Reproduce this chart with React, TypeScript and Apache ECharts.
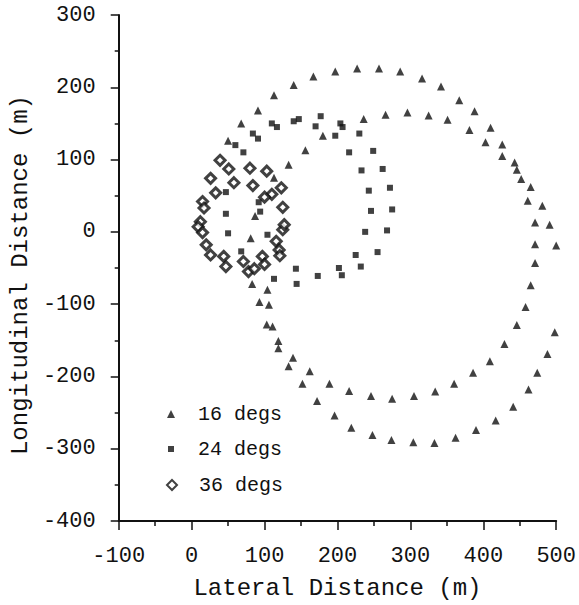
import { useEffect, useRef } from "react";
import * as echarts from "echarts";

// Axis ranges
const xRange = [-100, 500];
const yRange = [-400, 300];
const tickStep = 100;

// Series names
const seriesNames = ["16 degs", "24 degs", "36 degs"];

// 16 degs (triangles) [lateral, longitudinal]
const deg16: number[][] = [
  [140, 203], [113, 189], [91, 168], [68, 150], [50, 126], [156, 113], [133, 93], [113, 75], [87, 22], [81, -9], [83, -72],
  [167, 215], [197, 222], [227, 226], [257, 226], [286, 222], [316, 212], [342, 201],
  [236, 156], [266, 162], [296, 165], [325, 161], [351, 155], [180, 133],
  [367, 182], [388, 167], [410, 144], [426, 121], [443, 96], [465, 62], [481, 36], [491, 10], [500, -19], [503, -48],
  [381, 141], [403, 124], [426, 105], [446, 86], [452, 73], [461, 43], [471, 13], [471, -17], [471, -43],
  [504, -80], [501, -109], [498, -139], [488, -169], [474, -195], [462, -218], [441, -242],
  [465, -74], [458, -104], [446, -129], [429, -155], [409, -179], [386, -195], [360, -210], [334, -221], [305, -227],
  [104, -80], [93, -97], [106, -101], [103, -128], [111, -131], [119, -151], [119, -161], [139, -174], [133, -186],
  [162, -193], [152, -210], [189, -210], [216, -220], [246, -227], [275, -231],
  [172, -234], [196, -254], [219, -271], [248, -281], [274, -288], [304, -291], [333, -292], [362, -285], [390, -274], [417, -261],
];

// 24 degs (squares)
const deg24: number[][] = [
  [60, 120], [71, 110], [84, 136], [91, 129], [110, 150], [117, 145], [140, 153], [147, 156], [170, 146], [177, 160],
  [204, 150], [207, 145], [197, 133], [230, 136], [216, 110], [249, 112], [233, 85], [262, 87], [243, 57], [272, 61],
  [246, 29], [275, 31], [238, 0], [268, 2], [225, -32], [255, -28], [232, -48], [202, -50], [206, -60], [173, -61],
  [143, -51], [144, -72], [113, -65], [104, -4], [94, 28], [92, 41], [47, 25], [50, -2], [68, -27], [47, 55],
];

// 36 degs (diamonds)
const deg36: number[][] = [
  [39, 99], [51, 87], [58, 68], [26, 74], [33, 54], [15, 42], [17, 33], [12, 14], [9, 7], [15, -1], [20, -18],
  [26, -32], [44, -34], [47, -48], [71, -41], [78, -55], [86, -51], [97, -34], [100, -45], [116, -13], [120, -25],
  [121, -33], [125, 3], [127, 10], [125, 34], [123, 61], [110, 52], [100, 48], [103, 84], [80, 88], [84, 64],
];

const FONT = "'Liberation Mono', 'DejaVu Sans Mono', monospace";
const INK = "#111";

export default function App() {
  const ref = useRef<HTMLDivElement>(null);

  useEffect(() => {
    if (!ref.current) return;
    const chart = echarts.init(ref.current, undefined, { renderer: "svg" });

    const legendBase = {
      orient: "vertical" as const,
      selectedMode: false,
      itemGap: 0,
      textStyle: { fontFamily: FONT, fontSize: 20, color: INK, lineHeight: 20 },
    };

    chart.setOption({
      animation: false,
      backgroundColor: "#fff",
      grid: { left: 111, right: 22, top: 15, bottom: 80, containLabel: false },
      xAxis: {
        type: "value",
        min: xRange[0],
        max: xRange[1],
        interval: tickStep,
        name: "Lateral Distance (m)",
        nameLocation: "middle",
        nameGap: 55,
        nameTextStyle: { fontFamily: FONT, fontSize: 24, color: INK },
        axisLine: { show: true, onZero: false, lineStyle: { color: INK, width: 2 } },
        axisTick: { show: true, inside: false, length: 9, lineStyle: { color: INK, width: 1.5 } },
        minorTick: { show: true, splitNumber: 2, length: 5, lineStyle: { color: INK, width: 1.5 } },
        axisLabel: { fontFamily: FONT, fontSize: 22, color: INK, margin: 24 },
        splitLine: { show: false },
        minorSplitLine: { show: false },
      },
      yAxis: {
        type: "value",
        min: yRange[0],
        max: yRange[1],
        interval: tickStep,
        name: "Longitudinal Distance (m)",
        nameLocation: "middle",
        nameGap: 78,
        nameTextStyle: { fontFamily: FONT, fontSize: 24, color: INK, padding: [0, 14, 0, 0] },
        axisLine: { show: true, onZero: false, lineStyle: { color: INK, width: 2 } },
        axisTick: { show: true, inside: false, length: 8, lineStyle: { color: INK, width: 1.5 } },
        minorTick: { show: true, splitNumber: 2, length: 4, lineStyle: { color: INK, width: 1.5 } },
        axisLabel: { fontFamily: FONT, fontSize: 22, color: INK, margin: 23 },
        splitLine: { show: false },
        minorSplitLine: { show: false },
      },
      legend: [
        {
          ...legendBase,
          data: [seriesNames[0]],
          left: 162,
          top: 399,
          itemWidth: 8,
          itemHeight: 8,
          textStyle: { ...legendBase.textStyle, padding: [0, 0, 0, 18] },
        },
        {
          ...legendBase,
          data: [seriesNames[1]],
          left: 163,
          top: 434,
          itemWidth: 6,
          itemHeight: 6,
          textStyle: { ...legendBase.textStyle, padding: [0, 0, 0, 19] },
        },
        {
          ...legendBase,
          data: [seriesNames[2]],
          left: 161,
          top: 470,
          itemWidth: 10,
          itemHeight: 10,
          textStyle: { ...legendBase.textStyle, padding: [0, 0, 0, 17] },
        },
      ],
      series: [
        {
          name: seriesNames[0],
          type: "scatter",
          data: deg16,
          symbol: "triangle",
          symbolSize: 8,
          itemStyle: { color: INK },
        },
        {
          name: seriesNames[1],
          type: "scatter",
          data: deg24,
          symbol: "rect",
          symbolSize: 6,
          itemStyle: { color: INK },
        },
        {
          name: seriesNames[2],
          type: "scatter",
          data: deg36,
          symbol: "diamond",
          symbolSize: 10,
          itemStyle: { color: "#fff", borderColor: INK, borderWidth: 3 },
        },
      ],
    });

    return () => chart.dispose();
  }, []);

  return (
    <div
      ref={ref}
      style={{ position: "fixed", left: 0, top: 0, width: 579, height: 605, background: "#fff" }}
    />
  );
}
